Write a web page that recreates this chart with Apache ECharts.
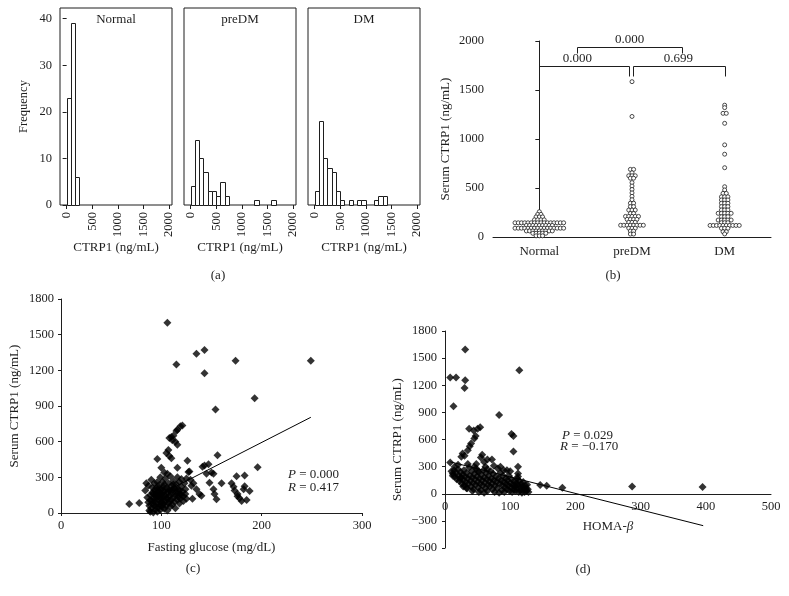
<!DOCTYPE html>
<html><head><meta charset="utf-8">
<script src="https://cdn.jsdelivr.net/npm/echarts@6/dist/echarts.min.js"></script>
<style>html,body{margin:0;padding:0;background:#fff}#c{width:789px;height:596px}</style>
</head><body><div id="c"></div>
<script>
const FONT = '"Liberation Serif","DejaVu Serif",serif';
const INK = '#1e1e1e';

// ---------- Panel (a): histograms ----------
const histGroups = ['Normal', 'preDM', 'DM'];
const binWidth = 83;
const normalBinStart = [0, 83, 166];
const normalBinCount = [23, 39, 6];
const preDMBinStart = [0, 83, 166, 249, 332, 415, 498, 581, 664, 1245, 1577];
const preDMBinCount = [4, 14, 10, 7, 3, 3, 2, 5, 2, 1, 1];
const dmBinStart = [0, 83, 166, 249, 332, 415, 498, 664, 830, 913, 1162, 1245, 1328];
const dmBinCount = [3, 18, 10, 8, 7, 3, 1, 1, 1, 1, 1, 2, 2];
const histXTicks = [0, 500, 1000, 1500, 2000];
const histYTicks = [0, 10, 20, 30, 40];

// ---------- Panel (b): dot plot ----------
const dotCategories = ['Normal', 'preDM', 'DM'];
const normalValues = [258, 231, 231, 205, 205, 205, 175, 175, 175, 175,
  145, 145, 145, 145, 145, 145, 145, 145, 145, 145, 145, 145, 145, 145, 145, 145,
  118, 118, 118, 118, 118, 118, 118, 118, 118,
  90, 90, 90, 90, 90, 90, 90, 90, 90, 90, 90, 90, 90, 90, 90, 90,
  62, 62, 62, 62, 62, 62, 62, 62, 62,
  38, 38, 38, 38, 38, 12, 12, 12];
const preDMValues = [1585, 1230, 690, 690, 655, 625, 625, 625, 600, 600, 555, 520, 485, 450, 415, 380,
  345, 345, 310, 310, 275, 275, 275, 240, 240, 210, 210, 210, 210, 210,
  180, 180, 180, 180, 150, 150, 150, 120, 120, 120, 120, 120, 120, 120, 120,
  90, 90, 90, 60, 60, 30, 30];
const dmValues = [1345, 1320, 1262, 1262, 1160, 940, 845, 707, 513, 480, 445, 445,
  410, 410, 410, 378, 378, 378, 344, 344, 344, 310, 310, 310, 276, 276, 276,
  242, 242, 242, 242, 242, 207, 207, 207, 173, 173, 173, 173, 173, 146, 146, 146,
  118, 118, 118, 118, 118, 118, 118, 118, 118, 118, 89, 89, 89, 54, 54, 31];
const bracketX1 = [0, 1.01, 0.405];
const bracketX2 = [0.97, 2, 1.54];
const bracketY = [1740, 1740, 1935];
const bracketDrop = [1640, 1640, 1880];
const bracketLabelX = [0.41, 1.5, 0.975];
const bracketLabels = ['0.000', '0.699', '0.000'];

// ---------- Panel (c): CTRP1 vs fasting glucose ----------
const scatterC = [
  [106,1600],[115,1250],[135,1340],[143,1370],[143,1175],[174,1280],[249,1280],[193,965],[154,870],[196,385],
  [119,730],[121,735],[116,700],[115,690],[112,650],[110,640],[108,630],[111,611],[114,600],[116,575],
  [107,530],[105,505],[108,480],[110,460],[96,455],[126,440],[156,485],[147,410],[143,400],[141,390],[128,350],[116,380],
  [150,340],[152,330],[148,255],[152,200],[153,160],[155,115],[160,250],[170,250],[172,220],[173,190],[175,310],[176,140],
  [178,125],[180,100],[183,315],[183,225],[185,110],[188,185],[182,200],[176,160],[140,145],[131,120],[135,200],[130,230],
  [129,280],[125,290],[127,345],[132,250],[138,160],[145,330],
  [68,75],[78,85],[84,190],[86,130],[87,90],[88,60],[88,20],[89,150],[89,110],[90,280],[90,40],[91,170],[91,75],[92,5],
  [92,125],[93,250],[93,190],[93,95],[94,55],[94,30],[95,160],[95,140],[95,210],[96,80],[96,10],[97,230],[97,110],[97,45],
  [98,180],[98,150],[98,65],[99,300],[99,120],[99,25],[100,200],[100,90],[100,160],[101,50],[101,260],[102,135],[102,75],
  [102,220],[103,35],[103,180],[104,100],[104,150],[104,290],[105,60],[105,210],[106,120],[106,170],[106,20],[107,250],
  [107,85],[108,140],[108,190],[109,55],[109,310],[110,110],[110,230],[110,160],[111,70],[111,195],[112,130],[112,270],
  [113,95],[113,210],[114,150],[114,40],[115,175],[115,240],[116,110],[116,300],[117,135],[117,200],[118,80],[118,260],
  [119,160],[119,120],[120,220],[120,285],[121,180],[122,140],[122,100],[123,250],[124,200],[124,160],[125,120],[85,250],
  [87,230],[90,100],[91,215],[92,160],[94,120],[95,180],[96,260],[97,140],[98,210],[99,170],[100,130],[101,100],[102,180],
  [103,240],[105,130],[107,200],[108,100],[110,180],[112,240],[114,200],[116,160],[118,190],[120,150],[100,380],[103,340],
  [106,330],[101,70],[93,70],[89,10]
];
const fitC = [[95, 140], [249, 805]];

// ---------- Panel (d): CTRP1 vs HOMA-beta ----------
const scatterD = [
  [31,1595],[8,1285],[17,1285],[31,1255],[30,1170],[114,1365],[13,968],[83,870],[287,80],[395,74],[180,66],[156,88],[146,96],
  [37,720],[44,700],[54,735],[50,720],[47,640],[45,610],[40,555],[38,525],[35,480],[27,445],[25,410],[30,420],[102,660],
  [105,640],[105,467],[112,300],[112,225],[8,345],[57,430],[55,400],[65,380],[72,380],[60,350],[62,300],[48,330],
  [10,250],[12,220],[14,260],[15,190],[17,230],[18,160],[20,270],[21,200],[22,140],[24,240],[25,180],[26,110],[27,210],
  [28,150],[29,260],[30,90],[31,190],[32,130],[33,230],[34,60],[35,170],[36,110],[37,290],[38,200],[39,140],[40,80],
  [41,250],[42,180],[43,120],[44,50],[45,220],[46,160],[47,100],[48,280],[49,190],[50,130],[51,70],[52,240],[53,170],
  [54,110],[55,40],[56,210],[57,150],[58,90],[59,260],[60,180],[61,120],[62,60],[63,230],[64,160],[65,30],[66,100],
  [67,200],[68,140],[69,80],[70,250],[71,170],[72,110],[73,50],[74,220],[75,150],[76,20],[77,90],[78,190],[79,130],
  [80,60],[81,280],[82,170],[83,10],[84,110],[85,230],[86,150],[87,40],[88,90],[89,200],[90,130],[91,20],[92,70],
  [93,170],[94,110],[95,50],[96,150],[97,90],[98,200],[99,30],[100,120],[101,70],[102,160],[103,20],[104,100],[105,50],
  [106,140],[107,80],[108,30],[109,120],[110,60],[111,170],[112,100],[113,20],[114,140],[115,70],[116,40],[117,110],
  [118,10],[119,80],[120,130],[121,50],[122,20],[123,90],[124,60],[125,30],[126,100],[127,50],[128,20],[20,320],[35,330],
  [45,300],[75,310],[90,260],[100,250],[112,190],[108,95],[95,260],[85,300],[65,270],[50,250],[15,300],[12,200],[23,170],
  [28,80],[33,60],[42,30],[52,20],[60,10]
];
const fitD = [[8, 353], [396, -353]];

// ---------- helpers ----------
function histData(starts, counts) {
  return starts.map((s, i) => [s, s + binWidth, counts[i]]);
}
function renderHist(params, api) {
  const p0 = api.coord([api.value(0), api.value(2)]);
  const p1 = api.coord([api.value(1), 0]);
  return {
    type: 'rect',
    shape: { x: Math.round(p0[0]) + 0.5, y: Math.round(p0[1]) + 0.5,
             width: Math.round(p1[0]) - Math.round(p0[0]), height: Math.round(p1[1]) - Math.round(p0[1]) },
    style: { fill: '#fff', stroke: INK, lineWidth: 1 }
  };
}
const DOT_STEP = 0.035;
function swarm(values, idx) {
  const counts = {}, seen = {};
  values.forEach(v => counts[v] = (counts[v] || 0) + 1);
  return values.map(v => {
    const n = counts[v];
    const k = seen[v] || 0; seen[v] = k + 1;
    return [idx + (k - (n - 1) / 2) * DOT_STEP, v];
  });
}
const txt = (size) => ({ fontFamily: FONT, fontSize: size, color: INK });
const plain = v => v < 0 ? '\u2212' + Math.abs(v) : String(v);

// ---------- axes ----------
const histBoxes = [60, 184, 308];
const grids = histBoxes.map(l => ({ left: l, top: 8, width: 112, height: 197, show: true, borderColor: INK, borderWidth: 1, backgroundColor: 'transparent' }));
grids.push({ left: 493, top: 41, width: 278, height: 196 });
grids.push({ left: 61, top: 299, width: 301, height: 214 });
grids.push({ left: 445, top: 331, width: 326, height: 217 });

const xAxes = histBoxes.map((l, i) => ({
  type: 'value', gridIndex: i, min: -130, max: 2060,
  axisLine: { show: false },
  axisTick: { show: true, length: 4, customValues: histXTicks, lineStyle: { color: INK } },
  axisLabel: Object.assign({ customValues: histXTicks, rotate: 90, margin: 7, formatter: plain }, txt(12.5)),
  splitLine: { show: false },
  name: 'CTRP1 (ng/mL)', nameLocation: 'middle', nameGap: 32, nameTextStyle: txt(13)
}));
xAxes.push({
  type: 'category', gridIndex: 3, data: dotCategories, boundaryGap: true,
  axisLine: { lineStyle: { color: INK, width: 1 } },
  axisTick: { alignWithLabel: true, length: 3, lineStyle: { color: INK } },
  axisLabel: Object.assign({ margin: 8 }, txt(13))
});
xAxes.push({ type: 'value', gridIndex: 3, min: -0.5, max: 2.5, show: false });
xAxes.push({
  type: 'value', gridIndex: 4, min: 0, max: 300, interval: 100,
  axisLine: { lineStyle: { color: INK } },
  axisTick: { show: true, length: 3, lineStyle: { color: INK } },
  axisLabel: Object.assign({ margin: 6, formatter: plain }, txt(12.5)),
  splitLine: { show: false },
  name: 'Fasting glucose (mg/dL)', nameLocation: 'middle', nameGap: 28, nameTextStyle: txt(13)
});
xAxes.push({
  type: 'value', gridIndex: 5, min: 0, max: 500, interval: 100, position: 'bottom', offset: -54,
  axisLine: { onZero: false, lineStyle: { color: INK } },
  axisTick: { show: false },
  axisLabel: Object.assign({ margin: 6, formatter: plain }, txt(12.5)),
  splitLine: { show: false },
  name: 'HOMA-{i|β}', nameLocation: 'middle', nameGap: 26,
  nameTextStyle: Object.assign({ rich: { i: { fontStyle: 'italic', fontFamily: FONT, fontSize: 13, color: INK } } }, txt(13))
});

const yAxes = [{
  type: 'value', gridIndex: 0, min: 0, max: 42.3,
  axisLine: { show: false },
  axisTick: { show: true, length: 4, customValues: histYTicks, lineStyle: { color: INK } },
  axisLabel: Object.assign({ customValues: histYTicks, margin: 8, formatter: plain }, txt(12.5)),
  splitLine: { show: false },
  name: 'Frequency', nameLocation: 'middle', nameGap: 30, nameTextStyle: txt(12.5)
},
{ type: 'value', gridIndex: 1, min: 0, max: 42.3, show: false, splitLine: { show: false } },
{ type: 'value', gridIndex: 2, min: 0, max: 42.3, show: false, splitLine: { show: false } },
{
  type: 'value', gridIndex: 3, min: 0, max: 2000, interval: 500,
  axisLine: { show: true, lineStyle: { color: INK } },
  axisTick: { show: true, length: 4, lineStyle: { color: INK } },
  axisLabel: Object.assign({ margin: 9, formatter: plain }, txt(12.5)),
  splitLine: { show: false },
  name: 'Serum CTRP1 (ng/mL)', nameLocation: 'middle', nameGap: 41, nameTextStyle: txt(13)
},
{
  type: 'value', gridIndex: 4, min: 0, max: 1800, interval: 300,
  axisLine: { show: true, lineStyle: { color: INK } },
  axisTick: { show: true, length: 3, lineStyle: { color: INK } },
  axisLabel: Object.assign({ margin: 7, formatter: plain }, txt(12.5)),
  splitLine: { show: false },
  name: 'Serum CTRP1 (ng/mL)', nameLocation: 'middle', nameGap: 40, nameTextStyle: txt(13)
},
{
  type: 'value', gridIndex: 5, min: -600, max: 1800, interval: 300,
  axisLine: { show: true, lineStyle: { color: INK } },
  axisTick: { show: true, length: 3, lineStyle: { color: INK } },
  axisLabel: Object.assign({ margin: 8, formatter: plain }, txt(12.5)),
  splitLine: { show: false },
  name: 'Serum CTRP1 (ng/mL)', nameLocation: 'middle', nameGap: 41, nameTextStyle: txt(13)
}];

// ---------- series ----------
const histSets = [[normalBinStart, normalBinCount], [preDMBinStart, preDMBinCount], [dmBinStart, dmBinCount]];
const series = histSets.map((h, i) => ({
  type: 'custom', xAxisIndex: i, yAxisIndex: i, renderItem: renderHist,
  encode: { x: [0, 1], y: 2 }, data: histData(h[0], h[1]), clip: false
}));
[normalValues, preDMValues, dmValues].forEach((vals, idx) => {
  series.push({
    type: 'scatter', xAxisIndex: 4, yAxisIndex: 3, symbol: 'circle', symbolSize: 4,
    itemStyle: { color: '#fff', borderColor: INK, borderWidth: 0.8, opacity: 1 },
    data: swarm(vals, idx)
  });
});
series.push({
  type: 'custom', xAxisIndex: 4, yAxisIndex: 3, clip: false,
  encode: { x: [0, 1, 4], y: [2, 3] },
  data: bracketX1.map((v, i) => [v, bracketX2[i], bracketY[i], bracketDrop[i], bracketLabelX[i]]),
  renderItem: function (params, api) {
    const x1 = api.value(0), x2 = api.value(1), y = api.value(2), yd = api.value(3), lx = api.value(4);
    const r = p => [Math.round(p[0]) + 0.5, Math.round(p[1]) + 0.5];
    const a = r(api.coord([x1, yd])), b = r(api.coord([x1, y])), c = r(api.coord([x2, y])), d = r(api.coord([x2, yd]));
    const t = api.coord([lx, y]);
    return { type: 'group', children: [
      { type: 'polyline', shape: { points: [a, b, c, d] }, style: { stroke: INK, lineWidth: 1, fill: null } },
      { type: 'text', x: t[0], y: t[1] - 1, style: { text: bracketLabels[params.dataIndex], align: 'center', verticalAlign: 'bottom', fontFamily: FONT, fontSize: 13, fill: INK } }
    ] };
  }
});
series.push({
  type: 'line', xAxisIndex: 5, yAxisIndex: 4, data: fitC, showSymbol: false, symbol: 'none',
  lineStyle: { color: '#000', width: 1 }, z: 1
});
series.push({
  type: 'scatter', xAxisIndex: 5, yAxisIndex: 4, symbol: 'diamond', symbolSize: 8,
  itemStyle: { color: '#000' }, data: scatterC, z: 2
});
series.push({
  type: 'scatter', xAxisIndex: 6, yAxisIndex: 5, symbol: 'diamond', symbolSize: 8,
  itemStyle: { color: '#000' }, data: scatterD
});
series.push({
  type: 'line', xAxisIndex: 6, yAxisIndex: 5, data: fitD, showSymbol: false, symbol: 'none',
  lineStyle: { color: '#000', width: 1 }, z: 3
});

// ---------- annotations ----------
const richPR = { i: { fontStyle: 'italic', fontFamily: FONT, fontSize: 13, fill: INK } };
function label(x, y, text, align, size) {
  return { type: 'text', x: x, y: y, style: { text: text, align: align || 'center', verticalAlign: 'middle', fontFamily: FONT, fontSize: size || 13, fill: INK, rich: richPR } };
}
const graphics = [
  label(116, 20, histGroups[0]), label(240, 20, histGroups[1]), label(364, 20, histGroups[2]),
  label(218, 276, '(a)'), label(613, 276, '(b)'), label(193, 569, '(c)'), label(583, 570, '(d)'),
  label(288, 475, '{i|P} = 0.000', 'left'), label(288, 488, '{i|R} = 0.417', 'left'),
  label(562, 436, '{i|P} = 0.029', 'left'), label(560, 447, '{i|R} = \u22120.170', 'left')
];

const chart = echarts.init(document.getElementById('c'), null, { renderer: 'canvas' });
chart.setOption({
  animation: false,
  backgroundColor: '#fff',
  grid: grids, xAxis: xAxes, yAxis: yAxes, series: series,
  graphic: graphics
});
</script></body></html>
